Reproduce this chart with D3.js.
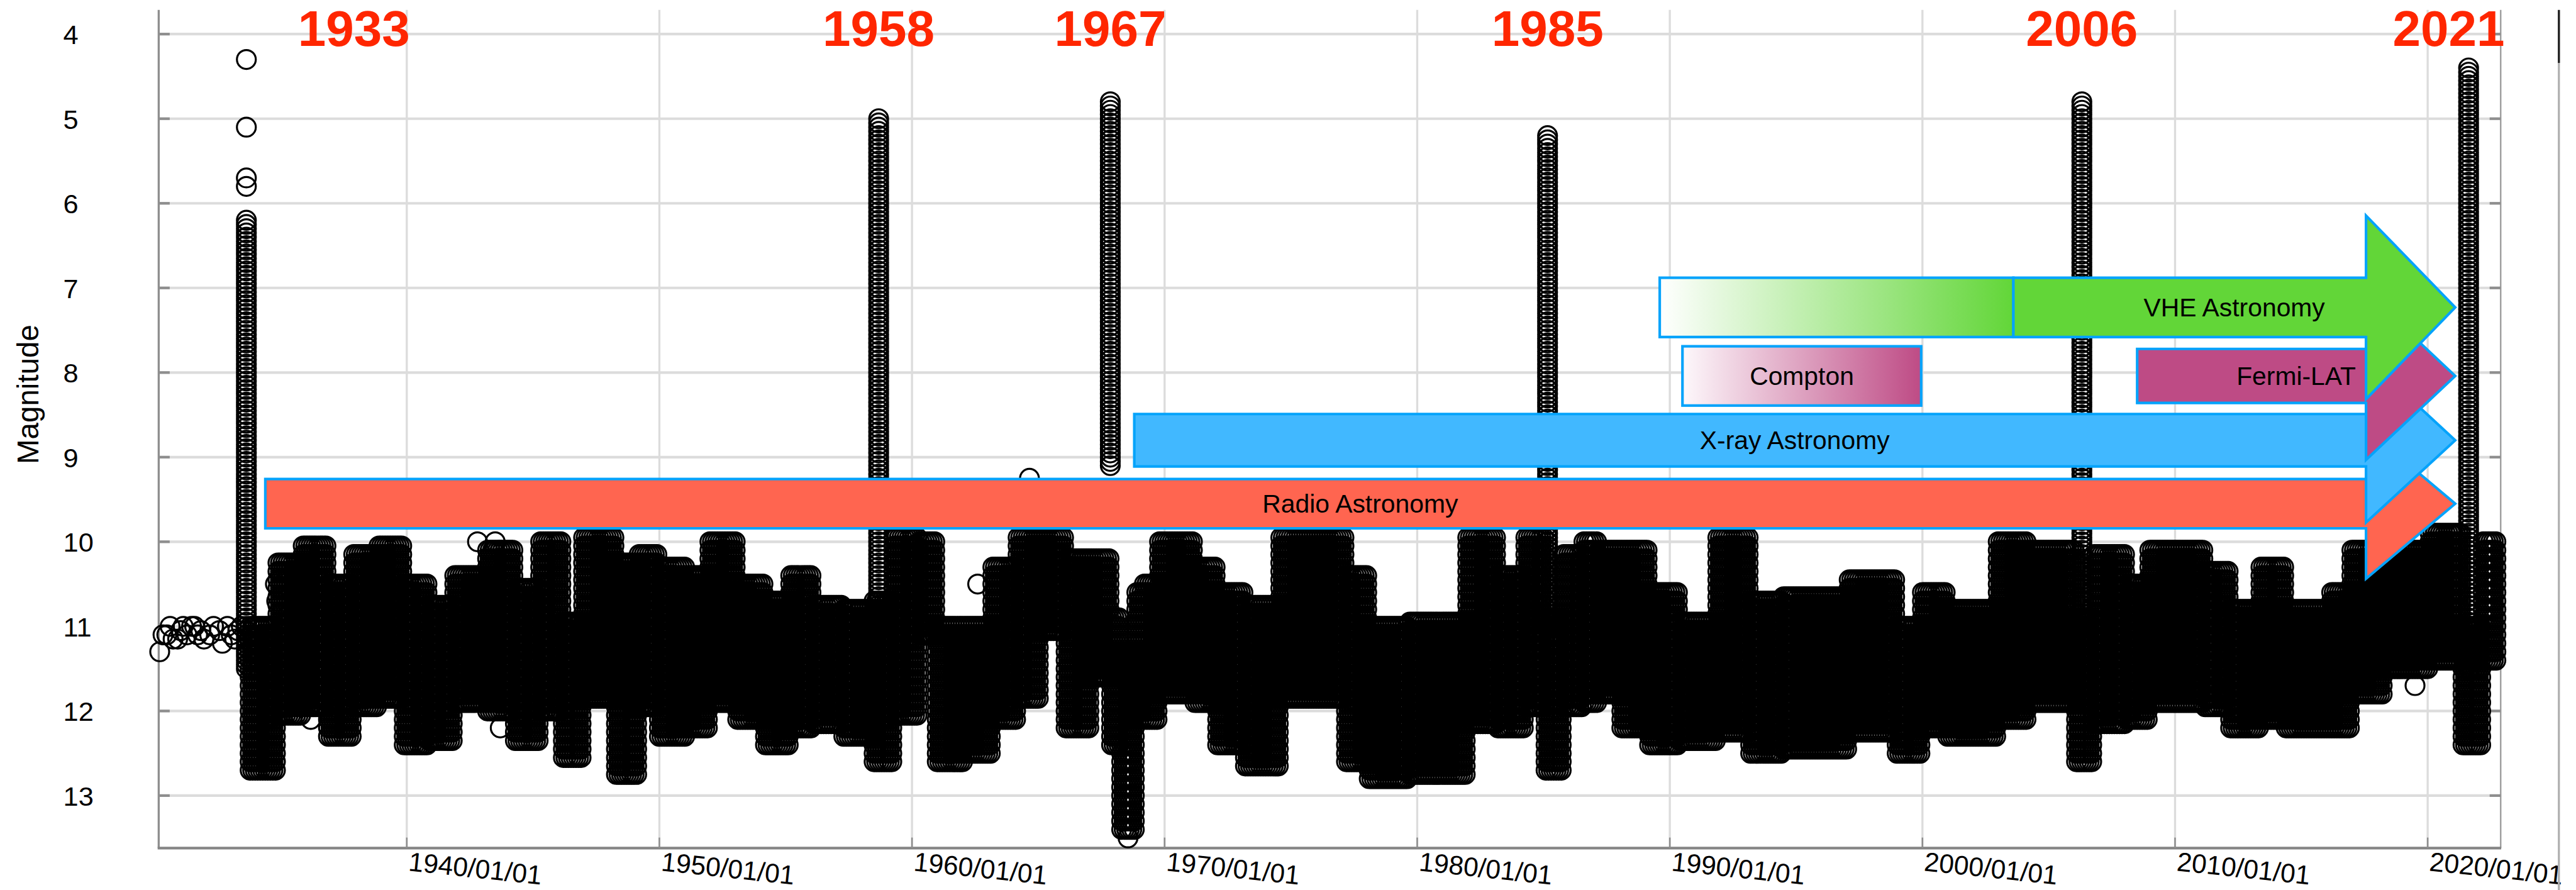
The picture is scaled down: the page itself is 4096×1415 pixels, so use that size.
<!DOCTYPE html>
<html>
<head>
<meta charset="utf-8">
<script src="https://cdn.jsdelivr.net/npm/d3@7/dist/d3.min.js"></script>
<style>
  body { margin: 0; background: #fff; }
  svg { display: block; font-family: "Liberation Sans", Arial, Helvetica, sans-serif; }
</style>
</head>
<body>
<div id="chart"></div>
<script>
// ---- data ----
// observed magnitude band per observing interval: start year, brightest and faintest estimate
var bandYears = [
  1933.8, 1934.9, 1935.9, 1936.9, 1937.9, 1938.9, 1939.9, 1940.9, 1941.9, 1943.2,
  1944.3, 1945.3, 1946.2, 1947.0, 1948.3, 1949.2, 1950.0, 1951.1, 1952.0, 1953.1,
  1954.2, 1955.2, 1956.1, 1957.3, 1958.5, 1959.3, 1960.3, 1961.0, 1962.1, 1963.2,
  1964.2, 1965.1, 1966.1, 1967.1, 1967.9, 1968.3, 1968.9, 1969.2, 1969.8, 1971.2,
  1972.1, 1973.2, 1974.6, 1977.2, 1978.1, 1979.7, 1982.0, 1983.2, 1984.3, 1985.1,
  1985.8, 1986.6, 1987.2, 1988.1, 1989.2, 1990.4, 1991.9, 1993.2, 1994.5, 1997.1,
  1999.0, 2000.0, 2001.0, 2003.0, 2004.2, 2006.1, 2006.8, 2008.1, 2009.0, 2011.2,
  2012.2, 2013.4, 2014.4, 2016.2, 2017.0, 2018.3, 2020.1, 2021.4, 2022.2, 2022.85
];
var bandBright = [
  11.0, 10.25, 10.05, 10.5, 10.15, 10.05, 10.5, 10.75, 10.4, 10.1,
  10.55, 10.0, 10.95, 9.95, 10.25, 10.15, 10.3, 10.4, 10.0, 10.5,
  10.7, 10.4, 10.75, 10.8, 10.7, 9.95, 10.0, 11.0, 11.0, 10.3,
  9.95, 9.95, 10.2, 10.2, 10.9, 11.3, 10.6, 10.5, 10.0, 10.3,
  10.6, 10.75, 9.95, 10.4, 11.0, 10.95, 9.95, 10.4, 9.95, 10.9,
  10.15, 10.0, 10.1, 10.1, 10.6, 10.95, 9.95, 10.7, 10.65, 10.45,
  11.0, 10.6, 10.8, 10.0, 10.1, 10.9, 10.15, 10.5, 10.1, 10.35,
  10.8, 10.3, 10.8, 10.6, 10.1, 10.1, 9.9, 11.0, 10.0
];
var bandFaint = [
  12.65, 12.0, 11.95, 12.3, 11.95, 11.8, 12.4, 12.3, 11.95, 12.0,
  12.35, 12.0, 12.55, 11.8, 12.75, 11.95, 12.3, 12.25, 11.95, 12.05,
  12.35, 12.2, 12.2, 12.35, 12.6, 12.0, 11.1, 12.55, 12.5, 12.1,
  11.85, 11.0, 12.15, 11.6, 12.4, 13.45, 12.1, 12.1, 11.8, 11.95,
  12.35, 12.7, 11.85, 12.6, 12.85, 12.7, 12.15, 12.25, 11.9, 12.7,
  11.95, 11.95, 11.8, 12.2, 12.4, 12.3, 12.2, 12.5, 12.45, 12.2,
  12.5, 12.2, 12.3, 12.1, 11.95, 12.6, 12.2, 12.05, 11.95, 11.9,
  12.2, 12.1, 12.25, 12.2, 11.75, 11.5, 11.45, 12.4, 11.45
];

// outbursts: date, peak of the continuous decline column, where the column meets the band
var outburstNames = ['1933', '1958', '1967', '1985', '2006', '2021'];
var outburstYears = [1933.65, 1958.68, 1967.85, 1985.16, 2006.31, 2021.62];
var outburstPeaks = [6.2, 5.0, 4.8, 5.2, 4.8, 4.4];
var outburstBase = [11.5, 11.0, 9.1, 11.0, 11.0, 11.5];

// single estimates standing apart
var isoYears = [1930.22, 1930.35, 1930.5, 1930.63, 1930.75, 1930.93, 1931.05, 1931.15, 1931.3, 1931.48,
  1931.6, 1931.72, 1931.85, 1931.97, 1932.2, 1932.35, 1932.58, 1932.7, 1932.9, 1933.05,
  1933.19, 1933.31, 1933.45, 1933.65, 1933.65, 1933.65, 1933.65,
  1934.8, 1934.85, 1936.2, 1942.8, 1943.5, 1943.7, 1943.7, 1962.6, 1964.65, 1968.55, 2019.5];
var isoMags = [11.3, 11.1, 11.1, 11.0, 11.15, 11.15, 11.05, 11.0, 11.1, 11.0,
  11.0, 11.1, 11.05, 11.15, 11.1, 11.0, 11.05, 11.2, 11.0, 11.1,
  11.15, 11.05, 11.0, 4.3, 5.1, 5.7, 5.8,
  10.5, 10.7, 12.1, 10.0, 10.0, 10.1, 12.2, 10.5, 9.25, 13.5, 11.7];

// observing eras
var eraNames = ['Radio Astronomy', 'X-ray Astronomy', 'Fermi-LAT', 'VHE Astronomy'];
var eraStart = [1934.4, 1968.8, 2008.5, 2003.6];
var eraFadeStart = [null, null, null, 1989.6];
var eraHeadYear = 2017.56, eraTipYear = 2021.09;
var comptonSpan = [1990.5, 1999.95];

var decades = [1940, 1950, 1960, 1970, 1980, 1990, 2000, 2010, 2020];
var magTicks = [4, 5, 6, 7, 8, 9, 10, 11, 12, 13];

// ---- layout (reference pixel units, scaled by the viewBox) ----
var W = 4911, H = 1697;
var plotLeft = 302, plotRight = 4768, plotTop = 19, plotBottom = 1617;
var rows = [
  { mag: 9.55, body: 47, head: 143, fill: '#FF6550' },
  { mag: 8.80, body: 50, head: 157, fill: '#41B8FF' },
  { mag: 8.04, body: 51.5, head: 160, fill: '#BE4B85' },
  { mag: 7.23, body: 56.5, head: 175, fill: '#62D638' }
];
var labelShift = [205, 0, 0, 0, 0, -38];
var edgeBlue = '#05A3FB';

var x = d3.scaleLinear().domain([1930.18, 2022.89]).range([plotLeft, plotRight]);
var y = d3.scaleLinear().domain([4, 13]).range([65, 1517]);

var svg = d3.select('#chart').append('svg')
  .attr('width', 4096).attr('height', 1415)
  .attr('viewBox', '0 0 ' + W + ' ' + H);

svg.append('rect').attr('width', W).attr('height', H).attr('fill', '#fff');

// gradients
var defs = svg.append('defs');
var gVhe = defs.append('linearGradient').attr('id', 'vheFade');
gVhe.append('stop').attr('offset', '0%').attr('stop-color', '#ffffff');
gVhe.append('stop').attr('offset', '100%').attr('stop-color', '#62D638');
var gCom = defs.append('linearGradient').attr('id', 'comptonFade');
gCom.append('stop').attr('offset', '0%').attr('stop-color', '#fdf8fb');
gCom.append('stop').attr('offset', '100%').attr('stop-color', '#BE4B85');

// grid
var grid = svg.append('g');
grid.selectAll('line.v').data(decades).enter().append('line')
  .attr('x1', function(d) { return x(d); }).attr('x2', function(d) { return x(d); })
  .attr('y1', plotTop).attr('y2', plotBottom)
  .attr('stroke', '#dcdcdc').attr('stroke-width', 4);
grid.selectAll('line.h').data(magTicks).enter().append('line')
  .attr('x1', plotLeft).attr('x2', plotRight)
  .attr('y1', function(d) { return y(d); }).attr('y2', function(d) { return y(d); })
  .attr('stroke', '#dcdcdc').attr('stroke-width', 5);

// axis frame and ticks
var axes = svg.append('g');
axes.append('line').attr('x1', plotLeft).attr('x2', plotLeft).attr('y1', plotTop).attr('y2', plotBottom)
  .attr('stroke', '#8e8e8e').attr('stroke-width', 4);
axes.append('line').attr('x1', plotRight).attr('x2', plotRight).attr('y1', plotTop).attr('y2', plotBottom)
  .attr('stroke', '#a0a0a0').attr('stroke-width', 3);
axes.append('line').attr('x1', plotLeft - 2).attr('x2', plotRight + 1).attr('y1', plotBottom).attr('y2', plotBottom)
  .attr('stroke', '#858585').attr('stroke-width', 5);
axes.selectAll('line.yt').data(magTicks).enter().append('line')
  .attr('x1', plotLeft).attr('x2', plotLeft + 21)
  .attr('y1', function(d) { return y(d); }).attr('y2', function(d) { return y(d); })
  .attr('stroke', '#8e8e8e').attr('stroke-width', 5);
axes.selectAll('line.yr').data(magTicks).enter().append('line')
  .attr('x1', plotRight - 21).attr('x2', plotRight)
  .attr('y1', function(d) { return y(d); }).attr('y2', function(d) { return y(d); })
  .attr('stroke', '#8e8e8e').attr('stroke-width', 5);
axes.selectAll('line.xt').data(decades).enter().append('line')
  .attr('x1', function(d) { return x(d); }).attr('x2', function(d) { return x(d); })
  .attr('y1', plotBottom - 20).attr('y2', plotBottom)
  .attr('stroke', '#8e8e8e').attr('stroke-width', 3);

axes.selectAll('text.yl').data(magTicks).enter().append('text')
  .attr('x', 120).attr('y', function(d) { return y(d) + 19; })
  .attr('font-size', 52).attr('fill', '#000')
  .text(function(d) { return d; });
axes.selectAll('text.xl').data(decades).enter().append('text')
  .attr('transform', function(d) { return 'translate(' + (x(d) + 2) + ',' + 1660 + ') rotate(6)'; })
  .attr('font-size', 51).attr('fill', '#000')
  .text(function(d) { return d + '/01/01'; });
axes.append('text')
  .attr('transform', 'translate(72,752) rotate(-90)')
  .attr('text-anchor', 'middle').attr('font-size', 57).attr('fill', '#000')
  .text('Magnitude');

// stray frame line at the far right
svg.append('line').attr('x1', 4879).attr('x2', 4879).attr('y1', plotTop).attr('y2', H)
  .attr('stroke', '#b0b0b0').attr('stroke-width', 4);
svg.append('line').attr('x1', 4879).attr('x2', 4879).attr('y1', plotTop).attr('y2', 120)
  .attr('stroke', '#222').attr('stroke-width', 4);

// ---- observations ----
var pts = [];
var colStep = 0.1;
for (var i = 0; i < bandBright.length; i++) {
  var nx = Math.max(1, Math.round((bandYears[i + 1] - bandYears[i]) / colStep));
  var ny = Math.round((bandFaint[i] - bandBright[i]) / 0.1);
  for (var a = 0; a < nx; a++) {
    for (var b = 0; b <= ny; b++) {
      pts.push([bandYears[i] + a * colStep, bandBright[i] + b * 0.1]);
    }
  }
}
for (var k = 0; k < outburstYears.length; k++) {
  var n = Math.round((outburstBase[k] - outburstPeaks[k]) / 0.05);
  for (var j = 0; j <= n; j++) pts.push([outburstYears[k], outburstPeaks[k] + j * 0.05]);
}
for (var q = 0; q < isoYears.length; q++) pts.push([isoYears[q], isoMags[q]]);

svg.append('g').selectAll('circle').data(pts).enter().append('circle')
  .attr('cx', function(d) { return x(d[0]); })
  .attr('cy', function(d) { return y(d[1]); })
  .attr('r', 18)
  .attr('fill', 'none')
  .attr('stroke', '#000')
  .attr('stroke-width', 3.8);

// ---- eras ----
var eras = svg.append('g');
var xb = x(eraHeadYear), xt = x(eraTipYear);

// Compton box
var cy = y(rows[2].mag);
eras.append('rect')
  .attr('x', x(comptonSpan[0])).attr('y', cy - 56.5)
  .attr('width', x(comptonSpan[1]) - x(comptonSpan[0])).attr('height', 113)
  .attr('fill', 'url(#comptonFade)').attr('stroke', edgeBlue).attr('stroke-width', 5);
eras.append('text')
  .attr('x', (x(comptonSpan[0]) + x(comptonSpan[1])) / 2).attr('y', cy + 17)
  .attr('text-anchor', 'middle').attr('font-size', 49).attr('fill', '#000')
  .text('Compton');

eraNames.forEach(function(name, i) {
  var r = rows[i];
  var yc = y(r.mag), x0 = x(eraStart[i]);
  if (eraFadeStart[i] !== null) {
    eras.append('rect')
      .attr('x', x(eraFadeStart[i])).attr('y', yc - r.body)
      .attr('width', x0 - x(eraFadeStart[i])).attr('height', 2 * r.body)
      .attr('fill', 'url(#vheFade)').attr('stroke', edgeBlue).attr('stroke-width', 5);
  }
  var poly = [
    [x0, yc - r.body], [xb, yc - r.body], [xb, yc - r.head], [xt, yc],
    [xb, yc + r.head], [xb, yc + r.body], [x0, yc + r.body]
  ];
  eras.append('polygon')
    .attr('points', poly.map(function(p) { return p.join(','); }).join(' '))
    .attr('fill', r.fill).attr('stroke', edgeBlue).attr('stroke-width', 5)
    .attr('stroke-linejoin', 'miter');
  eras.append('text')
    .attr('x', (x0 + xt) / 2).attr('y', yc + 17)
    .attr('text-anchor', 'middle').attr('font-size', 49).attr('fill', '#000')
    .text(name);
});

// ---- outburst year labels ----
svg.append('g').selectAll('text').data(outburstNames).enter().append('text')
  .attr('x', function(d, i) { return x(outburstYears[i]) + labelShift[i]; })
  .attr('y', 87)
  .attr('text-anchor', 'middle')
  .attr('font-size', 96).attr('font-weight', 'bold')
  .attr('fill', '#FF2600')
  .text(function(d) { return d; });
</script>
</body>
</html>
